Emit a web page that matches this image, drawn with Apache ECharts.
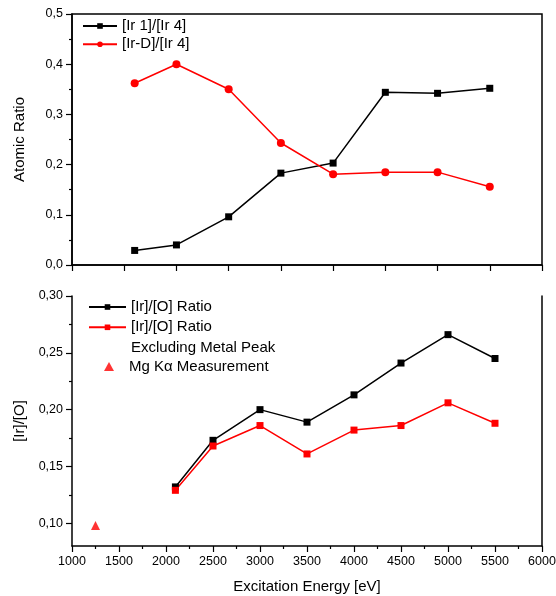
<!DOCTYPE html>
<html><head><meta charset="utf-8">
<script src="https://cdn.jsdelivr.net/npm/echarts@6/dist/echarts.min.js"></script>
<style>html,body{margin:0;padding:0;background:#fff}#c{width:556px;height:596px}</style>
</head><body><div id="c"></div>
<script>
// Top panel (unlabelled x axis: tick index positions)
const topX = [1.2, 2, 3, 4, 5, 6, 7, 8];
const ir1Ir4 = [0.029, 0.040, 0.096, 0.183, 0.203, 0.344, 0.342, 0.352];
const irDIr4 = [0.362, 0.400, 0.350, 0.243, 0.181, 0.185, 0.185, 0.156];
// Bottom panel
const energy = [2100, 2500, 3000, 3500, 4000, 4500, 5000, 5500];
const irO = [0.132, 0.173, 0.200, 0.189, 0.213, 0.241, 0.266, 0.245];
const irOExcl = [0.129, 0.168, 0.186, 0.161, 0.182, 0.186, 0.206, 0.188];
const mgEnergy = [1250];
const mgIrO = [0.098];
// Tick values
const bottomYTicks = [0.10, 0.15, 0.20, 0.25, 0.30];
const bottomYMinor = [0.125, 0.175, 0.225, 0.275];
// Legend labels
const legendNames = {
  s1: '[Ir 1]/[Ir 4]',
  s2: '[Ir-D]/[Ir 4]',
  s3: '[Ir]/[O] Ratio',
  s4: '[Ir]/[O] Ratio',
  s5: 'Excluding Metal Peak',
  s6: 'Mg K\u03b1 Measurement'
};

const FONT = "'Liberation Sans', Arial, sans-serif";
const zip = (xs, ys) => xs.map((x, i) => [x, ys[i]]);
const axisLine = { show: true, onZero: false, lineStyle: { color: '#000', width: 1.5 } };
const tick = { show: true, inside: false, length: 6, lineStyle: { color: '#000', width: 1.2 } };
const minor = { show: true, splitNumber: 2, length: 3, lineStyle: { color: '#000', width: 1.2 } };
const lbl = { color: '#000', fontSize: 12.5, fontFamily: FONT, margin: 9 };
const nameStyle = { color: '#000', fontSize: 15, fontFamily: FONT };
const legendText = { color: '#000', fontSize: 15, fontFamily: FONT };

const chart = echarts.init(document.getElementById('c'), null, { renderer: 'canvas' });
chart.setOption({
  animation: false,
  backgroundColor: '#fff',
  textStyle: { fontFamily: FONT },
  grid: [
    { left: 72, top: 14, width: 470, height: 251, show: true, borderColor: '#000', borderWidth: 1.5, backgroundColor: 'transparent', outerBoundsMode: 'none' },
    { left: 72, top: 296, width: 470, height: 250, show: false, outerBoundsMode: 'none' }
  ],
  legend: [
    {
      left: 82, top: 18.5, orient: 'vertical', padding: 0, itemGap: 3.3,
      itemWidth: 34, itemHeight: 7,
      textStyle: legendText,
      formatter: n => legendNames[n],
      data: ['s1', 's2']
    },
    {
      left: 88, top: 299.5, orient: 'vertical', padding: 0, itemGap: 5.3,
      itemWidth: 37, itemHeight: 7,
      textStyle: legendText,
      formatter: n => legendNames[n],
      data: ['s3', 's4',
        { name: 's5', itemStyle: { opacity: 0 }, lineStyle: { opacity: 0 } }]
    },
    {
      left: 104, top: 359, orient: 'vertical', padding: 0,
      itemWidth: 10, itemHeight: 9,
      textStyle: Object.assign({}, legendText, { padding: [0, 0, 0, 10] }),
      formatter: n => legendNames[n],
      data: [{ name: 's6', icon: 'triangle' }]
    }
  ],
  xAxis: [
    { gridIndex: 0, type: 'value', min: 0, max: 9, interval: 1,
      axisLine, axisTick: tick, axisLabel: { show: false }, splitLine: { show: false } },
    { gridIndex: 1, type: 'value', min: 1000, max: 6000, interval: 500,
      axisLine, axisTick: tick, minorTick: minor,
      axisLabel: Object.assign({}, lbl, { formatter: v => String(v) }),
      splitLine: { show: false },
      name: 'Excitation Energy [eV]', nameLocation: 'middle', nameGap: 33, nameTextStyle: nameStyle }
  ],
  yAxis: [
    { gridIndex: 0, type: 'value', min: 0, max: 0.5, interval: 0.1,
      axisLine, axisTick: tick, minorTick: minor,
      axisLabel: Object.assign({}, lbl, { formatter: v => v.toFixed(1).replace('.', ',') }),
      splitLine: { show: false },
      name: 'Atomic Ratio', nameLocation: 'middle', nameGap: 45, nameTextStyle: nameStyle },
    { gridIndex: 1, type: 'value', min: 0.08, max: 0.30,
      axisLine, axisTick: Object.assign({}, tick, { customValues: bottomYTicks }),
      axisLabel: Object.assign({}, lbl, { customValues: bottomYTicks, formatter: v => v.toFixed(2).replace('.', ',') }),
      splitLine: { show: false },
      name: '[Ir]/[O]', nameLocation: 'middle', nameGap: 39, nameTextStyle: nameStyle },
    { gridIndex: 1, type: 'value', min: 0.08, max: 0.30, position: 'left', offset: 0,
      axisLine: { show: false },
      axisTick: { show: true, length: 3, customValues: bottomYMinor, lineStyle: { color: '#000', width: 1.2 } },
      axisLabel: { show: false }, splitLine: { show: false } },
    { gridIndex: 1, type: 'value', min: 0.08, max: 0.30, position: 'right', offset: 0,
      axisLine, axisTick: { show: false }, axisLabel: { show: false }, splitLine: { show: false } }
  ],
  series: [
    { name: 's1', type: 'line', xAxisIndex: 0, yAxisIndex: 0, data: zip(topX, ir1Ir4),
      symbol: 'rect', symbolSize: 7, itemStyle: { color: '#000' }, lineStyle: { color: '#000', width: 1.5 } },
    { name: 's2', type: 'line', xAxisIndex: 0, yAxisIndex: 0, data: zip(topX, irDIr4),
      symbol: 'circle', symbolSize: 8, itemStyle: { color: '#ff0000' }, lineStyle: { color: '#ff0000', width: 1.5 } },
    { name: 's3', type: 'line', xAxisIndex: 1, yAxisIndex: 1, data: zip(energy, irO),
      symbol: 'rect', symbolSize: 7, itemStyle: { color: '#000' }, lineStyle: { color: '#000', width: 1.5 } },
    { name: 's4', type: 'line', xAxisIndex: 1, yAxisIndex: 1, data: zip(energy, irOExcl),
      symbol: 'rect', symbolSize: 7, itemStyle: { color: '#ff0000' }, lineStyle: { color: '#ff0000', width: 1.5 } },
    { name: 's5', type: 'line', xAxisIndex: 1, yAxisIndex: 1, data: [],
      symbol: 'none', itemStyle: { color: 'rgba(0,0,0,0)' }, lineStyle: { color: 'rgba(0,0,0,0)' } },
    { name: 's6', type: 'scatter', xAxisIndex: 1, yAxisIndex: 1, data: zip(mgEnergy, mgIrO),
      symbol: 'triangle', symbolSize: 9, itemStyle: { color: '#ff0000' } }
  ]
});
</script></body></html>
